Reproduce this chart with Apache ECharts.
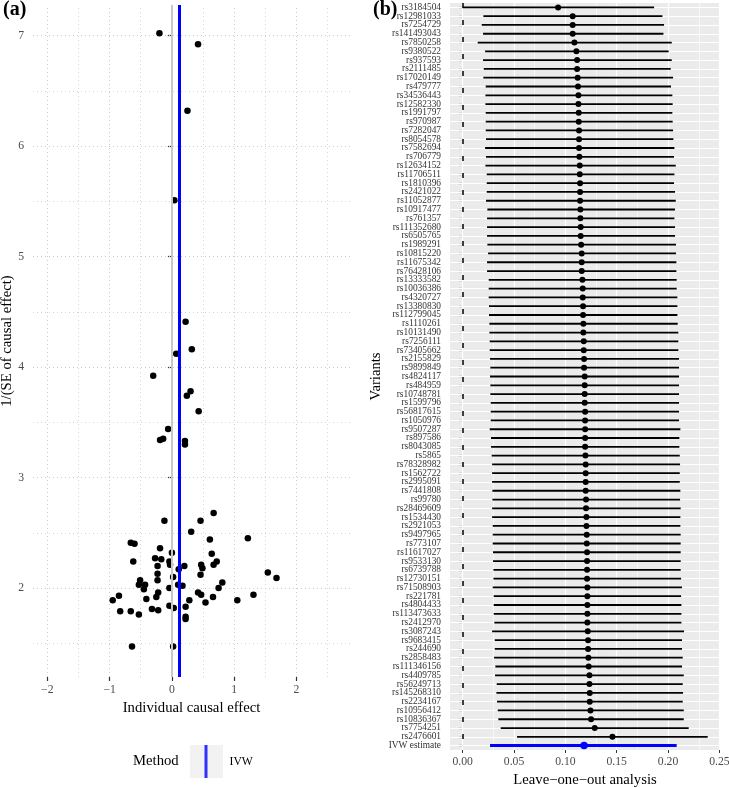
<!DOCTYPE html>
<html><head><meta charset="utf-8">
<script src="https://cdn.jsdelivr.net/npm/echarts@6/dist/echarts.min.js"></script>
<style>html,body{margin:0;padding:0;background:#fff}#c{width:729px;height:788px}</style>
</head><body><div id="c"></div>
<script>
// ---------- Panel (a): funnel / scatter ----------
const scatterX = [-0.20,0.42,0.25,0.04,0.22,0.32,0.07,-0.30,0.30,0.24,
  0.43,-0.06,-0.14,-0.19,0.21,0.21,0.67,0.46,-0.12,0.31,
  1.22,0.61,-0.66,-0.60,-0.19,0.00,0.64,-0.27,-0.17,-0.62,
  0.72,0.67,0.47,0.49,-0.04,-0.03,-0.23,0.20,0.11,1.54,
  1.68,0.46,-0.23,-0.23,-0.51,0.81,-0.43,-0.53,-0.45,0.17,
  0.10,0.02,-0.04,0.75,-0.85,-0.95,-0.41,-0.22,-0.25,0.42,
  0.47,0.28,0.66,0.54,-0.04,0.03,0.22,-0.32,-0.22,-0.83,
  -0.66,-0.53,0.22,0.22,1.05,1.31,-0.64,0.02];
const scatterY = [7.02,6.92,6.32,5.51,4.41,4.16,4.12,3.92,3.78,3.74,
  3.60,3.44,3.35,3.34,3.33,3.30,2.68,2.61,2.61,2.51,
  2.45,2.44,2.41,2.40,2.36,2.32,2.31,2.27,2.26,2.24,
  2.24,2.21,2.21,2.18,2.24,2.21,2.20,2.20,2.17,2.14,
  2.09,2.12,2.13,2.07,2.07,2.05,2.03,2.03,1.99,2.02,
  2.03,2.10,2.00,2.00,1.93,1.89,1.90,1.96,1.92,1.96,
  1.94,1.89,1.92,1.87,1.84,1.82,1.83,1.81,1.80,1.79,
  1.79,1.76,1.74,1.72,1.89,1.94,1.47,1.47];
const ivwEstimate = 0.118;
const leftXTicks = [-2,-1,0,1,2];
const leftYTicks = [2,3,4,5,6,7];
const leftXGridValues = [-2,-1.5,-1,-0.5,0,0.5,1,1.5,2,2.5];
const leftYGridValues = [1.5,2,2.5,3,3.5,4,4.5,5,5.5,6,6.5,7];

// ---------- Panel (b): leave-one-out ----------
const looVariants = ['rs3184504','rs12981033','rs7254729','rs141493043','rs7850258','rs9380522','rs937593','rs2111485','rs17020149','rs479777',
  'rs34536443','rs12582330','rs1991797','rs970987','rs7282047','rs8054578','rs7582694','rs706779','rs12634152','rs11706511',
  'rs1810396','rs2421022','rs11052877','rs10917477','rs761357','rs111352680','rs6505765','rs1989291','rs10815220','rs11675342',
  'rs76428106','rs13333582','rs10036386','rs4320727','rs13380830','rs112799045','rs1110261','rs10131490','rs7256111','rs73405662',
  'rs2155829','rs9899849','rs4824117','rs484959','rs10748781','rs1599796','rs56817615','rs1050976','rs9507287','rs897586',
  'rs8043085','rs5865','rs78328982','rs1562722','rs2995091','rs7441808','rs99780','rs28469609','rs1534430','rs2921053',
  'rs9497965','rs773107','rs11617027','rs9533130','rs6739788','rs12730151','rs71508903','rs221781','rs4804433','rs113473633',
  'rs2412970','rs3087243','rs9683415','rs244690','rs2858483','rs111346156','rs4409785','rs56249713','rs145268310','rs2234167',
  'rs10956412','rs10836367','rs7754251','rs2476601','IVW estimate'];
const looEstimate = [0.0929,0.1071,0.1071,0.1071,0.1088,0.1107,0.1114,0.1114,0.1120,0.1123,
  0.1127,0.1127,0.1130,0.1130,0.1133,0.1133,0.1133,0.1136,0.1140,0.1140,
  0.1143,0.1143,0.1143,0.1146,0.1146,0.1149,0.1149,0.1153,0.1159,0.1159,
  0.1159,0.1166,0.1169,0.1169,0.1172,0.1172,0.1175,0.1175,0.1179,0.1179,
  0.1182,0.1182,0.1188,0.1188,0.1188,0.1188,0.1192,0.1192,0.1192,0.1192,
  0.1192,0.1195,0.1198,0.1198,0.1198,0.1198,0.1201,0.1201,0.1205,0.1205,
  0.1208,0.1208,0.1211,0.1211,0.1211,0.1211,0.1214,0.1214,0.1214,0.1214,
  0.1214,0.1218,0.1221,0.1221,0.1224,0.1227,0.1234,0.1234,0.1237,0.1237,
  0.1244,0.1250,0.1286,0.1458,0.1182];
const looLower = [0.0000,0.0201,0.0185,0.0198,0.0146,0.0218,0.0198,0.0205,0.0201,0.0224,
  0.0221,0.0221,0.0224,0.0224,0.0224,0.0227,0.0218,0.0227,0.0221,0.0234,
  0.0234,0.0234,0.0227,0.0240,0.0237,0.0237,0.0237,0.0240,0.0247,0.0237,
  0.0237,0.0253,0.0253,0.0253,0.0256,0.0256,0.0260,0.0260,0.0263,0.0263,
  0.0266,0.0269,0.0266,0.0269,0.0269,0.0273,0.0273,0.0273,0.0263,0.0276,
  0.0276,0.0282,0.0286,0.0286,0.0286,0.0289,0.0289,0.0286,0.0286,0.0292,
  0.0292,0.0292,0.0295,0.0295,0.0299,0.0299,0.0292,0.0302,0.0302,0.0302,
  0.0308,0.0286,0.0312,0.0312,0.0305,0.0318,0.0315,0.0331,0.0328,0.0334,
  0.0341,0.0347,0.0370,0.0529,0.0266];
const looUpper = [0.1864,0.1945,0.1961,0.1955,0.2036,0.2006,0.2036,0.2026,0.2049,0.2029,
  0.2042,0.2045,0.2042,0.2045,0.2049,0.2052,0.2062,0.2058,0.2075,0.2062,
  0.2058,0.2068,0.2075,0.2068,0.2062,0.2068,0.2068,0.2078,0.2078,0.2081,
  0.2081,0.2084,0.2084,0.2091,0.2091,0.2091,0.2094,0.2100,0.2100,0.2100,
  0.2107,0.2107,0.2107,0.2107,0.2107,0.2107,0.2107,0.2107,0.2120,0.2110,
  0.2110,0.2114,0.2117,0.2114,0.2114,0.2120,0.2117,0.2123,0.2120,0.2120,
  0.2123,0.2123,0.2123,0.2123,0.2123,0.2127,0.2136,0.2127,0.2130,0.2130,
  0.2130,0.2156,0.2136,0.2136,0.2143,0.2136,0.2153,0.2143,0.2146,0.2143,
  0.2153,0.2153,0.2201,0.2386,0.2084];
const rightXTicks = [0,0.05,0.10,0.15,0.20,0.25];
const rightXGridValues = [0,0.025,0.05,0.075,0.10,0.125,0.15,0.175,0.20,0.225,0.25];

// ---------- styling ----------
const FONT = '"Liberation Serif", "Times New Roman", serif';
const BLUE = '#0000ff';
const isIVW = name => name === 'IVW estimate';
const minus = v => v < 0 ? '\u2212' + (-v) : String(v);

const chart = echarts.init(document.getElementById('c'), null, {renderer: 'canvas'});

const leftGridLines = []
  .concat(leftXGridValues.map(v => ({xAxis: v, lineStyle: {color: '#cccccc', width: Number.isInteger(v) ? 1 : 0.8, type: [1, 3]}})))
  .concat(leftYGridValues.map(v => ({yAxis: v, lineStyle: {color: '#cccccc', width: Number.isInteger(v) ? 1 : 0.8, type: [1, 3]}})));

const rightGridLines = []
  .concat(rightXGridValues.map((v, i) => ({xAxis: v, lineStyle: {color: '#ffffff', width: i % 2 === 0 ? 1.2 : 0.6, type: 'solid'}})))
  .concat(looVariants.map(v => ({yAxis: v, lineStyle: {color: '#ffffff', width: 1.2, type: 'solid'}})));

const option = {
  animation: false,
  textStyle: {fontFamily: FONT},
  grid: [
    {left: 33, top: 5, width: 317, height: 672, show: false, outerBoundsMode: 'none', containLabel: false},
    {left: 450, top: 3, width: 270, height: 747, show: true, backgroundColor: '#ebebeb', borderWidth: 0, outerBoundsMode: 'none', containLabel: false}
  ],
  xAxis: [
    {type: 'value', gridIndex: 0, min: -2.23, max: 2.86,
     axisLine: {show: false}, splitLine: {show: false},
     axisTick: {show: true, length: 4, customValues: leftXTicks, lineStyle: {color: '#333', width: 1.2}},
     axisLabel: {customValues: leftXTicks, formatter: minus, color: '#4d4d4d', fontSize: 11.7, fontFamily: FONT, margin: 7},
     name: 'Individual causal effect', nameLocation: 'middle', nameGap: 23,
     nameTextStyle: {fontFamily: FONT, fontSize: 14.7, color: '#000'}},
    {type: 'value', gridIndex: 1, min: -0.0124, max: 0.2506,
     axisLine: {show: false}, splitLine: {show: false},
     axisTick: {show: true, length: 3, customValues: rightXTicks, lineStyle: {color: '#333', width: 1}},
     axisLabel: {customValues: rightXTicks, formatter: v => v.toFixed(2), color: '#4d4d4d', fontSize: 11.7, fontFamily: FONT, margin: 6},
     name: 'Leave\u2212one\u2212out analysis', nameLocation: 'middle', nameGap: 22,
     nameTextStyle: {fontFamily: FONT, fontSize: 14.7, color: '#000'}}
  ],
  yAxis: [
    {type: 'value', gridIndex: 0, min: 1.195, max: 7.276,
     axisLine: {show: false}, splitLine: {show: false},
     axisTick: {show: true, length: 4, customValues: leftYTicks, lineStyle: {color: '#333', width: 1.2}},
     axisLabel: {customValues: leftYTicks, color: '#4d4d4d', fontSize: 11.7, fontFamily: FONT, margin: 9},
     name: '1/(SE of causal effect)', nameLocation: 'middle', nameGap: 18, nameRotate: 90,
     nameTextStyle: {fontFamily: FONT, fontSize: 14.7, color: '#000'}},
    {type: 'category', gridIndex: 1, data: looVariants, inverse: true, boundaryGap: true,
     axisLine: {show: false}, splitLine: {show: false},
     axisTick: {show: true, length: 4, alignWithLabel: true, interval: 0, lineStyle: {color: '#333', width: 1.2}},
     axisLabel: {interval: 0, color: '#333333', fontSize: 9.4, fontFamily: FONT, margin: 9},
     name: 'Variants', nameLocation: 'middle', nameGap: 66, nameRotate: 90,
     nameTextStyle: {fontFamily: FONT, fontSize: 14.7, color: '#000'}}
  ],
  legend: {
    data: [{name: 'IVW', icon: 'rect'}],
    left: 204.5, top: 745, padding: 0, itemWidth: 3, itemHeight: 33, selectedMode: false,
    textStyle: {fontFamily: FONT, fontSize: 11.7, color: '#000', padding: [0, 0, 0, 17]}
  },
  graphic: [
    {type: 'rect', left: 190, top: 745, shape: {width: 33, height: 33}, style: {fill: '#f2f2f2'}, z: 0},
    {type: 'text', left: 133, top: 754, style: {text: 'Method', font: '14.7px ' + FONT, fill: '#000'}},
    {type: 'text', left: 3, top: 0, style: {text: '(a)', font: 'bold 20px ' + FONT, fill: '#000'}},
    {type: 'text', left: 373, top: 0, style: {text: '(b)', font: 'bold 20px ' + FONT, fill: '#000'}, z: 10}
  ],
  series: [
    {type: 'scatter', name: 'gridA', xAxisIndex: 0, yAxisIndex: 0, data: [], silent: true, z: 1,
     markLine: {z: 1, silent: true, symbol: ['none', 'none'], label: {show: false}, animation: false, data: leftGridLines}},
    {type: 'scatter', name: 'points', xAxisIndex: 0, yAxisIndex: 0, z: 3,
     symbolSize: 6.5, itemStyle: {color: '#000', opacity: 1},
     data: scatterX.map((x, i) => [x, scatterY[i]])},
    {type: 'scatter', name: 'IVW', xAxisIndex: 0, yAxisIndex: 0, data: [], z: 6,
     itemStyle: {color: BLUE},
     markLine: {z: 6, silent: true, symbol: ['none', 'none'], label: {show: false}, animation: false,
       data: [
         {xAxis: 0, lineStyle: {color: '#c8c8c8', width: 2, type: 'solid'}},
         {xAxis: ivwEstimate, lineStyle: {color: BLUE, width: 3, type: 'solid'}}
       ]}},
    {type: 'scatter', name: 'gridB', xAxisIndex: 1, yAxisIndex: 1, data: [], silent: true, z: 1,
     markLine: {z: 1, silent: true, symbol: ['none', 'none'], label: {show: false}, animation: false,
       data: rightGridLines.concat([{xAxis: 0, lineStyle: {color: '#000', width: 1.5, type: [5, 12]}}])}},
    {type: 'custom', name: 'ci', xAxisIndex: 1, yAxisIndex: 1, z: 3, silent: true,
     data: looVariants.map((v, i) => [looLower[i], looUpper[i], v]),
     encode: {x: [0, 1], y: 2},
     renderItem: function (params, api) {
       const idx = params.dataIndex;
       const y = api.value(2);
       const p1 = api.coord([api.value(0), y]);
       const p2 = api.coord([api.value(1), y]);
       const ivw = isIVW(looVariants[idx]);
       return {type: 'line', shape: {x1: p1[0], y1: p1[1], x2: p2[0], y2: p2[1]},
               style: {stroke: ivw ? BLUE : '#000', lineWidth: ivw ? 3 : 1.8}};
     }},
    {type: 'scatter', name: 'loo', xAxisIndex: 1, yAxisIndex: 1, z: 4,
     data: looVariants.map((v, i) => ({value: [looEstimate[i], v],
       symbolSize: isIVW(v) ? 7.5 : 6,
       itemStyle: {color: isIVW(v) ? BLUE : '#000', opacity: 1}}))}
  ]
};
chart.setOption(option);
</script>
</body></html>
